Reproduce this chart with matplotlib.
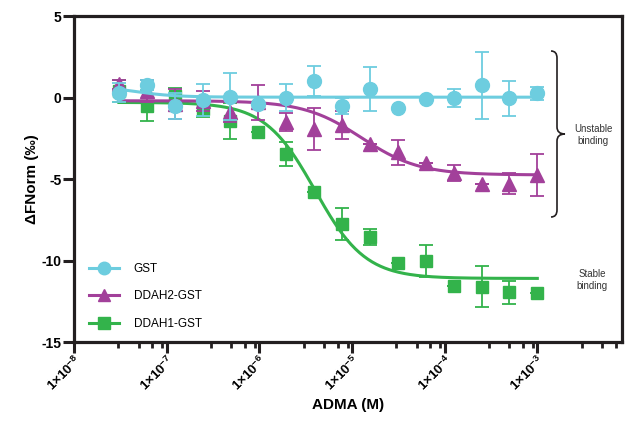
import numpy as np
import matplotlib
matplotlib.use("Agg")
import matplotlib.pyplot as plt
from matplotlib.path import Path
from matplotlib.patches import PathPatch
from matplotlib.lines import Line2D
import matplotlib.transforms as mtransforms
from matplotlib.ticker import FixedLocator, NullFormatter

plt.rcParams['font.family'] = ['Liberation Sans', 'DejaVu Sans']
plt.rcParams['axes.unicode_minus'] = False
plt.rcParams['mathtext.fontset'] = 'custom'
plt.rcParams['mathtext.rm'] = 'Liberation Sans'
plt.rcParams['mathtext.bf'] = 'Liberation Sans:bold'

# ---- data ----
conc = [3.05e-8, 6.10e-8, 1.22e-7, 2.44e-7, 4.88e-7, 9.77e-7, 1.95e-6, 3.91e-6,
        7.81e-6, 1.56e-5, 3.13e-5, 6.25e-5, 1.25e-4, 2.50e-4, 5.00e-4, 1.00e-3]

gst = [0.30, 0.75, -0.50, -0.15, 0.04, -0.37, 0.00, 1.02,
       -0.50, 0.55, -0.66, -0.10, -0.04, 0.75, -0.04, 0.25]
gst_err = [0.60, 0.30, 0.80, 1.00, 1.45, 0.00, 0.85, 0.93,
           0.50, 1.35, 0.00, 0.00, 0.55, 2.07, 1.07, 0.40]

ddah2 = [0.80, 0.40, -0.40, -0.20, -0.90, -0.30, -1.53, -1.94,
         -1.70, -2.86, -3.37, -4.03, -4.64, -5.28, -5.28, -4.75]
ddah2_err = [0.30, 0.70, 0.90, 0.60, 0.60, 1.05, 0.55, 1.30,
             0.87, 0.00, 0.75, 0.00, 0.50, 0.00, 0.65, 1.29]

ddah1 = [0.40, -0.50, 0.10, -0.70, -1.43, -2.11, -3.48, -5.79,
         -7.77, -8.55, -10.18, -10.02, -11.56, -11.60, -11.96, -12.00]
ddah1_err = [0.70, 0.93, 0.50, 0.50, 1.10, 0.00, 0.75, 0.00,
             0.97, 0.50, 0.00, 1.00, 0.00, 1.24, 0.70, 0.00]

# fitted 4-parameter curves (top, bottom, EC50, hill)
fit_gst = (0.8, 0.02, 4.0e-8, 1.8)
fit_ddah2 = (-0.2, -4.75, 1.27e-5, 1.4)
fit_ddah1 = (-0.3, -11.1, 4.0e-6, 1.6)

labels = ['GST', 'DDAH2-GST', 'DDAH1-GST']
colors = ['#6dcddf', '#a2409a', '#33b34b']
markers = ['o', '^', 's']
msizes = [10, 10, 9]

xtick_vals = [1e-8, 1e-7, 1e-6, 1e-5, 1e-4, 1e-3]
xtick_labels = [r'$\mathbf{1{\times}10^{-8}}$', r'$\mathbf{1{\times}10^{-7}}$',
                r'$\mathbf{1{\times}10^{-6}}$', r'$\mathbf{1{\times}10^{-5}}$',
                r'$\mathbf{1{\times}10^{-4}}$', r'$\mathbf{1{\times}10^{-3}}$']
ytick_vals = [-15, -10, -5, 0, 5]


def four_pl(x, p):
    top, bot, ec, h = p
    return bot + (top - bot) / (1 + (x / ec) ** h)


W, H = 627, 423
fig = plt.figure(figsize=(W / 100, H / 100), dpi=100)
ax = fig.add_axes([74 / W, 1 - 342 / H, (622 - 74) / W, (342 - 16) / H])
ax.set_xscale('log')

xs = np.logspace(np.log10(conc[0]), np.log10(conc[-1]), 300)
series = [(ddah1, ddah1_err, fit_ddah1, 2), (ddah2, ddah2_err, fit_ddah2, 1), (gst, gst_err, fit_gst, 0)]
for vals, errs, fit, i in series:
    z = 2 + 2 * (2 - i)
    ax.plot(xs, four_pl(xs, fit), color=colors[i], lw=2.2, zorder=z)
    ax.errorbar(conc, vals, yerr=errs, fmt='none', ecolor=colors[i], elinewidth=1.3,
                capsize=5, capthick=1.3, zorder=z)
    ax.plot(conc, vals, ls='none', marker=markers[i], ms=msizes[i], color=colors[i],
            mec=colors[i], zorder=z + 1)

ax.set_xlim(1e-8, 10 ** (-2.086))
ax.set_ylim(-15, 5)

ax.xaxis.set_major_locator(FixedLocator(xtick_vals))
ax.set_xticklabels(xtick_labels)
minor = []
for d in range(-8, -2):
    for m in (3, 5, 7, 9):
        minor.append(m * 10.0 ** d)
ax.xaxis.set_minor_locator(FixedLocator(minor))
ax.xaxis.set_minor_formatter(NullFormatter())
ax.set_yticks(ytick_vals)
ax.set_yticklabels([str(v) for v in ytick_vals], fontweight='bold')

spine_col = '#231f20'
for s in ax.spines.values():
    s.set_linewidth(2.3)
    s.set_color(spine_col)
ax.tick_params(axis='both', which='major', direction='out', length=8, width=2.2,
               color=spine_col, labelsize=10, pad=2)
ax.tick_params(axis='x', which='minor', direction='out', length=4.5, width=2.0, color=spine_col)
ax.tick_params(axis='y', which='major', pad=1)
ax.tick_params(axis='x', which='major', pad=0)
for lab in ax.get_xticklabels():
    lab.set_rotation(45)
    lab.set_ha('right')
    lab.set_rotation_mode('anchor')
    lab.set_fontsize(9.5)

ax.set_xlabel('ADMA (M)', fontsize=11, fontweight='bold', labelpad=3)
ax.set_ylabel('ΔFNorm (‰)', fontsize=11, fontweight='bold', labelpad=2)

# legend
handles = [Line2D([], [], color=colors[i], lw=2.2, marker=markers[i], ms=msizes[i] - 1)
           for i in range(3)]
fig.legend(handles, labels, loc='upper left', bbox_to_anchor=(89 / W, 1 - 263 / H),
           frameon=False, fontsize=8.5, handlelength=2.5, handletextpad=1.3,
           labelspacing=1.3, borderpad=0, borderaxespad=0)

# brace and annotations (pixel coordinates, origin top-left)
pix = mtransforms.Affine2D().scale(1 / W, -1 / H).translate(0, 1) + fig.transFigure
verts = [(551, 51), (557, 51), (557, 58), (557, 127), (557, 134), (565, 134),
         (557, 134), (557, 141), (557, 210), (557, 217), (551, 217)]
codes = [Path.MOVETO, Path.CURVE3, Path.CURVE3, Path.LINETO, Path.CURVE3, Path.CURVE3,
         Path.CURVE3, Path.CURVE3, Path.LINETO, Path.CURVE3, Path.CURVE3]
fig.patches.append(PathPatch(Path(verts, codes), transform=pix, fill=False,
                             lw=1.2, edgecolor=spine_col))
fig.text(593 / W, 1 - 135 / H, 'Unstable\nbinding', ha='center', va='center',
         fontsize=7, color='#333333', linespacing=1.3)
fig.text(592 / W, 1 - 280 / H, 'Stable\nbinding', ha='center', va='center',
         fontsize=7, color='#333333', linespacing=1.3)

fig.savefig('out.png', dpi=100)
